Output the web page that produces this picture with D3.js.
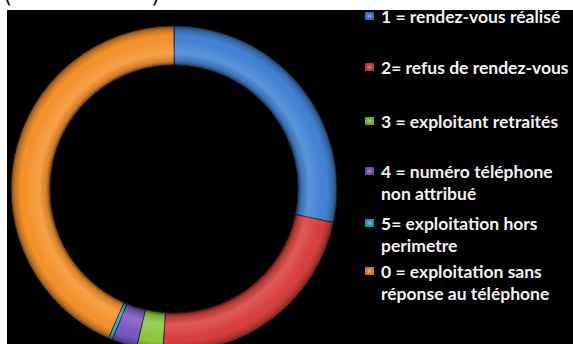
<!DOCTYPE html>
<html>
<head>
<meta charset="utf-8">
<script src="https://cdn.jsdelivr.net/npm/d3@7"></script>
<style>
html,body{margin:0;padding:0;background:#fff;}
svg{display:block;}
</style>
</head>
<body>
<svg id="chart" width="573" height="344"></svg>
<script>
// Data (percentages)
const categories = ["1 = rendez-vous réalisé", "2= refus de rendez-vous", "3 = exploitant retraités", "4 = numéro téléphone non attribué", "5= exploitation hors perimetre", "0 = exploitation sans réponse au téléphone"];
const legendLines = [["1 = rendez-vous réalisé"], ["2= refus de rendez-vous"], ["3 = exploitant retraités"], ["4 = numéro téléphone", "non attribué"], ["5= exploitation hors", "perimetre"], ["0 = exploitation sans", "réponse au téléphone"]];
const values = [28.3, 22.8, 2.6, 2.5, 0.4, 43.4];
const colors = ["#4283d4", "#d8403e", "#8cc83f", "#7b58c2", "#2aaec6", "#f6922c"];

const svg = d3.select("#chart");
const W = 573, H = 344;

// top partial text line (cut off in the source)
svg.append("text").attr("x", 3).attr("y", 2).attr("font-family", "DejaVu Sans").attr("font-size", 24).attr("fill", "#111").text("(");
svg.append("text").attr("x", 151).attr("y", 2).attr("font-family", "DejaVu Sans").attr("font-size", 24).attr("fill", "#111").text(")");

// black panel
svg.append("rect").attr("x", 7).attr("y", 10).attr("width", W - 7).attr("height", H - 10).attr("fill", "#000");

const cx = 174, cy = 189, rOut = 163, rIn = 124;

const defs = svg.append("defs");
const bevel = defs.append("radialGradient").attr("id", "bevel")
  .attr("gradientUnits", "userSpaceOnUse").attr("cx", 0).attr("cy", 0).attr("r", rOut);
[[0, "#000", 0], [rIn / rOut, "#000", 0.55], [0.785, "#000", 0.12], [0.83, "#fff", 0.14], [0.88, "#fff", 0.06], [0.94, "#000", 0.0], [0.975, "#000", 0.2], [1, "#000", 0.5]]
  .forEach(s => bevel.append("stop").attr("offset", s[0]).attr("stop-color", s[1]).attr("stop-opacity", s[2]));

const mg = defs.append("radialGradient").attr("id", "mk");
mg.append("stop").attr("offset", 0).attr("stop-color", "#fff").attr("stop-opacity", 0.35);
mg.append("stop").attr("offset", 1).attr("stop-color", "#000").attr("stop-opacity", 0.2);

const pie = d3.pie().sort(null).value(d => d)(values);
const arc = d3.arc().innerRadius(rIn).outerRadius(rOut);

const g = svg.append("g").attr("transform", `translate(${cx},${cy})`);
g.selectAll("path.slice").data(pie).join("path").attr("class", "slice")
  .attr("d", arc).attr("fill", (d, i) => colors[i])
  .attr("stroke", "#1a1a1a").attr("stroke-width", 0.8);
g.selectAll("path.bev").data(pie).join("path").attr("class", "bev")
  .attr("d", arc).attr("fill", "url(#bevel)");

// Legend
const lg = svg.append("g");
const baselines = [23, 74, 128, 178, 230, 278];
const lineGap = 22;
legendLines.forEach((lines, i) => {
  const y = baselines[i];
  lg.append("rect").attr("x", 365).attr("y", y - 11).attr("width", 9).attr("height", 8).attr("fill", colors[i]);
  lg.append("rect").attr("x", 365).attr("y", y - 11).attr("width", 9).attr("height", 8).attr("fill", "url(#mk)");
  lines.forEach((t, j) => {
    lg.append("text").attr("x", 381).attr("y", y + j * lineGap)
      .attr("font-family", "Lato, 'Open Sans', sans-serif").attr("font-weight", 700)
      .attr("font-size", 17.5).attr("fill", "#f2f2f2").text(t);
  });
});
</script>
</body>
</html>
